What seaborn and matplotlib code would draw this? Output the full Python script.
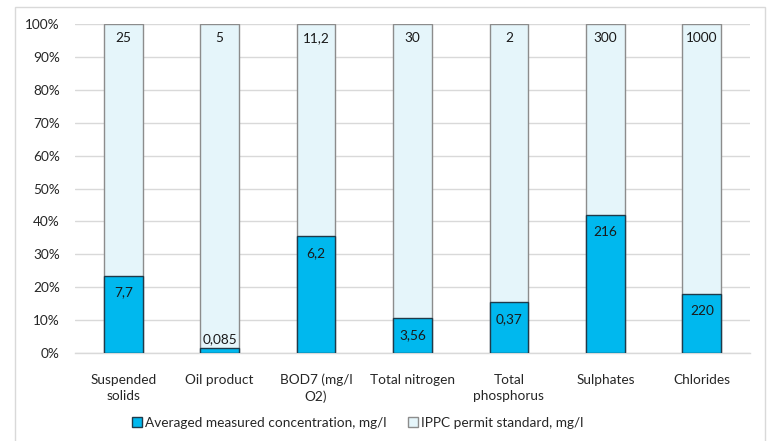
import matplotlib
matplotlib.use("Agg")
import matplotlib.pyplot as plt
from matplotlib.patches import Rectangle, Patch
import seaborn as sns
import pandas as pd

categories = ["Suspended\nsolids", "Oil product", "BOD7 (mg/l\nO2)", "Total nitrogen",
              "Total\nphosphorus", "Sulphates", "Chlorides"]
measured = [7.7, 0.085, 6.2, 3.56, 0.37, 216, 220]
standard = [25, 5, 11.2, 30, 2, 300, 1000]
measured_labels = ["7,7", "0,085", "6,2", "3,56", "0,37", "216", "220"]
standard_labels = ["25", "5", "11,2", "30", "2", "300", "1000"]
yticks = [0, 10, 20, 30, 40, 50, 60, 70, 80, 90, 100]

sns.set_theme(style="white")
plt.rcParams["font.family"] = ["Lato", "DejaVu Sans"]

share = [100 * m / (m + s) for m, s in zip(measured, standard)]
df = pd.DataFrame({"cat": categories, "share": share, "total": [100] * len(categories)})

fig = plt.figure(figsize=(7.73, 4.41), dpi=100)
fig.patches.append(Rectangle((15 / 773, -0.01), 750 / 773, 1 - 7 / 441 + 0.01,
                             transform=fig.transFigure, fill=False,
                             edgecolor="#D9D9D9", linewidth=1.0, zorder=0))
ax = fig.add_axes([75 / 773, 1 - 353 / 441, 675 / 773, 329 / 441])

light = "#E5F5FA"
blue = "#00B8EE"
fs = 9.8
sns.barplot(data=df, x="cat", y="total", color=light, width=0.4, ax=ax,
            edgecolor="#8C8C8C", linewidth=1.0, saturation=1, zorder=2)
sns.barplot(data=df, x="cat", y="share", color=blue, width=0.4, ax=ax,
            edgecolor="#1F3A4A", linewidth=1.0, saturation=1, zorder=3)

ax.set_ylim(0, 100)
ax.set_xlim(-0.5, len(categories) - 0.5)
ax.set_yticks(yticks)
ax.set_yticklabels([f"{t}%" for t in yticks])
ax.yaxis.grid(True, color="#D9D9D9", linewidth=1.0, zorder=0)
ax.set_axisbelow(True)
for side in ["top", "right", "left"]:
    ax.spines[side].set_visible(False)
ax.spines["bottom"].set_color("#D9D9D9")
ax.spines["bottom"].set_linewidth(1.0)
ax.tick_params(axis="both", length=0, labelsize=fs, colors="#262626")
ax.tick_params(axis="y", pad=11)
ax.tick_params(axis="x", pad=15)
ax.set_xlabel("")
ax.set_ylabel("")
for lbl in ax.get_xticklabels():
    lbl.set_linespacing(1.4)

for i, (p, ml, sl) in enumerate(zip(share, measured_labels, standard_labels)):
    ax.text(i, max(p - 5.2, 4.3), ml, ha="center", va="center", fontsize=fs,
            color="#1A1A1A", zorder=5)
    ax.text(i, 95.7, sl, ha="center", va="center", fontsize=fs,
            color="#1A1A1A", zorder=5)

handles = [Patch(facecolor=blue, edgecolor="#1F3A4A", linewidth=1.0,
                 label="Averaged measured concentration, mg/l"),
           Patch(facecolor=light, edgecolor="#8C8C8C", linewidth=1.0,
                 label="IPPC permit standard, mg/l")]
fig.legend(handles=handles, loc="center", bbox_to_anchor=(358 / 773, 1 - 423 / 441),
           ncol=2, frameon=False, fontsize=fs, handlelength=0.7, handleheight=0.7,
           handletextpad=0.25, columnspacing=1.6, labelcolor="#262626")

fig.savefig("out.png", dpi=100)
